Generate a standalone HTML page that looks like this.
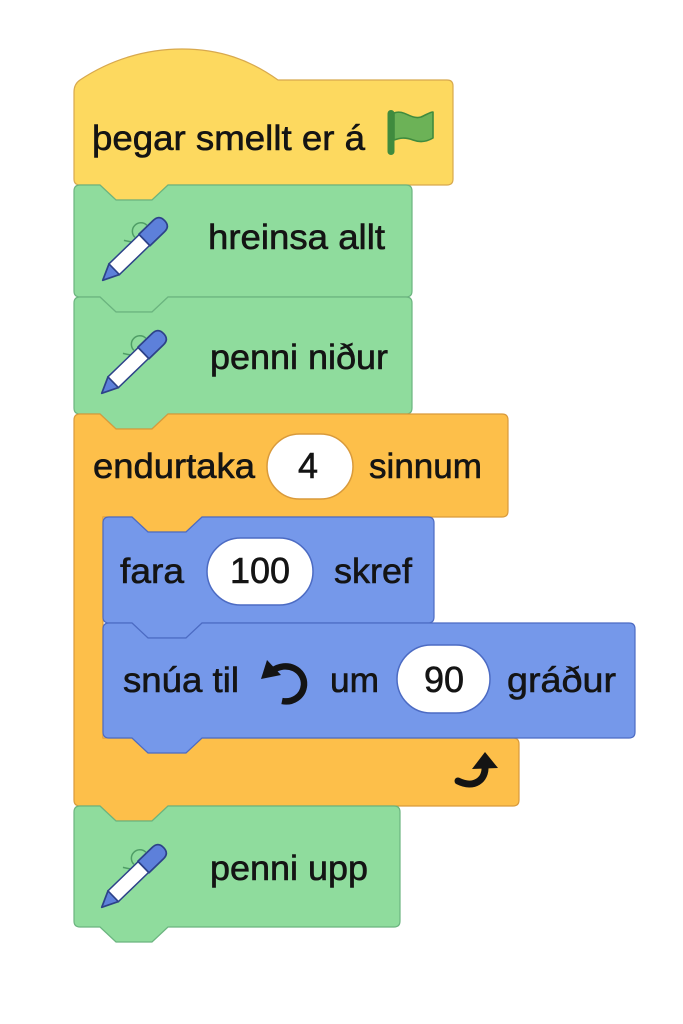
<!DOCTYPE html>
<html>
<head>
<meta charset="utf-8">
<style>
  html, body { margin:0; padding:0; background:#ffffff; }
  body { width:683px; height:1024px; overflow:hidden; }
  svg { display:block; }
  text { font-family:"Liberation Sans", "DejaVu Sans", sans-serif; font-size:35px; fill:#141414; stroke:#141414; stroke-width:0.6px; }
</style>
</head>
<body>
<svg width="683" height="1024" viewBox="0 0 683 1024" xmlns="http://www.w3.org/2000/svg">
  <defs>
    <g id="pen">
      <path d="M54,-8.5 A8.5,8.5 0 0 1 71,-9" fill="none" stroke="#4f9d66" stroke-width="1.5"/>
      <path d="M48,-8 L44,-14" fill="none" stroke="#4f9d66" stroke-width="1.5"/>
      <path d="M1,0 L17,-7.5 L17,7.5 Z" fill="#5d80da" stroke="#2d4289" stroke-width="1.7" stroke-linejoin="round"/>
      <rect x="17" y="-7.5" width="42" height="15" fill="#ffffff" stroke="#2d4289" stroke-width="1.5"/>
      <path d="M59,-8 L79,-8 Q87,-8 87,0 Q87,8 79,8 L59,8 Z" fill="#5d80da" stroke="#2d4289" stroke-width="1.7" stroke-linejoin="round"/>
    </g>
  </defs>

  <!-- Hat block -->
  <path d="M74,92 Q74,84 80,80 C110,60 145,49 182,49 C220,49 250,60 278,80 L447,80 Q453,80 453,86 L453,179 Q453,185 447,185 L168,185 L152,200 L116,200 L100,185 L80,185 Q74,185 74,179 Z"
        fill="#fdd95f" stroke="#d8a94e" stroke-width="1.2"/>
  <text x="92" y="150" textLength="273" lengthAdjust="spacingAndGlyphs">þegar smellt er á</text>
  <!-- flag -->
  <path d="M394,113 C404,109 411,120 421,117 C426,115 430,112 433,112 L433,138 C428,141 421,143 413,140 C405,137 400,138 394,140 Z" fill="#6cb257" stroke="#3f8b3e" stroke-width="1.6" stroke-linejoin="round"/>
  <rect x="387.5" y="110" width="7" height="45" rx="3.5" fill="#3f8b3e"/>

  <!-- Green 1 -->
  <path d="M74,191 Q74,185 80,185 L100,185 L116,200 L152,200 L168,185 L406,185 Q412,185 412,191 L412,291 Q412,297 406,297 L168,297 L152,312 L116,312 L100,297 L80,297 Q74,297 74,291 Z"
        fill="#8fdc9d" stroke="#6bb47f" stroke-width="1.2"/>
  <use href="#pen" transform="translate(102,281) rotate(-44)"/>
  <text x="208" y="249" textLength="177" lengthAdjust="spacingAndGlyphs">hreinsa allt</text>

  <!-- Green 2 -->
  <path d="M74,303 Q74,297 80,297 L100,297 L116,312 L152,312 L168,297 L406,297 Q412,297 412,303 L412,408 Q412,414 406,414 L168,414 L152,429 L116,429 L100,414 L80,414 Q74,414 74,408 Z"
        fill="#8fdc9d" stroke="#6bb47f" stroke-width="1.2"/>
  <use href="#pen" transform="translate(101,394) rotate(-44)"/>
  <text x="210" y="369" textLength="178" lengthAdjust="spacingAndGlyphs">penni niður</text>

  <!-- Orange C block -->
  <path d="M74,420 Q74,414 80,414 L100,414 L116,429 L152,429 L168,414 L502,414 Q508,414 508,420 L508,511 Q508,517 502,517 L202,517 L186,532 L148,532 L132,517 L103,517 L103,738 L513,738 Q519,738 519,744 L519,800 Q519,806 513,806 L168,806 L152,821 L116,821 L100,806 L80,806 Q74,806 74,800 Z"
        fill="#fdbf4a" stroke="#d99a3b" stroke-width="1.2"/>
  <text x="93" y="478" textLength="162" lengthAdjust="spacingAndGlyphs">endurtaka</text>
  <rect x="267" y="434" width="86" height="65" rx="32.5" fill="#ffffff" stroke="#d99a3b" stroke-width="1.5"/>
  <text x="308" y="478" text-anchor="middle" style="font-size:36px">4</text>
  <text x="369" y="478" textLength="113" lengthAdjust="spacingAndGlyphs">sinnum</text>
  <!-- loop arrow -->
  <path d="M458,781 C474,789 486,780 485,766" fill="none" stroke="#141414" stroke-width="7" stroke-linecap="round"/>
  <polygon points="485,752 472,769 498,768" fill="#141414"/>

  <!-- Blue 1 -->
  <path d="M103,523 Q103,517 109,517 L132,517 L148,532 L186,532 L202,517 L428,517 Q434,517 434,523 L434,617 Q434,623 428,623 L202,623 L186,638 L148,638 L132,623 L109,623 Q103,623 103,617 Z"
        fill="#7598ea" stroke="#4c6bc3" stroke-width="1.2"/>
  <text x="120" y="583" textLength="64" lengthAdjust="spacingAndGlyphs">fara</text>
  <rect x="207" y="538" width="106" height="67" rx="33.5" fill="#ffffff" stroke="#4c6bc3" stroke-width="1.5"/>
  <text x="260" y="583" text-anchor="middle" style="font-size:36px">100</text>
  <text x="334" y="583" textLength="78" lengthAdjust="spacingAndGlyphs">skref</text>

  <!-- Blue 2 -->
  <path d="M103,629 Q103,623 109,623 L132,623 L148,638 L186,638 L202,623 L629,623 Q635,623 635,629 L635,732 Q635,738 629,738 L202,738 L186,753 L148,753 L132,738 L109,738 Q103,738 103,732 Z"
        fill="#7598ea" stroke="#4c6bc3" stroke-width="1.2"/>
  <text x="123" y="692" textLength="116" lengthAdjust="spacingAndGlyphs">snúa til</text>
  <!-- rotate left icon -->
  <path d="M272,671 C287,660 305,670 304,685 C303,697 292,703 282,701" fill="none" stroke="#141414" stroke-width="6.5"/>
  <polygon points="261,679 267,660 281,675" fill="#141414"/>
  <text x="330" y="692" textLength="49" lengthAdjust="spacingAndGlyphs">um</text>
  <rect x="397" y="645" width="93" height="68" rx="34" fill="#ffffff" stroke="#4c6bc3" stroke-width="1.5"/>
  <text x="444" y="692" text-anchor="middle" style="font-size:36px">90</text>
  <text x="507" y="692" textLength="109" lengthAdjust="spacingAndGlyphs">gráður</text>

  <!-- Green 3 -->
  <path d="M74,812 Q74,806 80,806 L100,806 L116,821 L152,821 L168,806 L394,806 Q400,806 400,812 L400,921 Q400,927 394,927 L168,927 L152,942 L116,942 L100,927 L80,927 Q74,927 74,921 Z"
        fill="#8fdc9d" stroke="#6bb47f" stroke-width="1.2"/>
  <use href="#pen" transform="translate(101,908) rotate(-44)"/>
  <text x="210" y="880" textLength="158" lengthAdjust="spacingAndGlyphs">penni upp</text>
</svg>
</body>
</html>
